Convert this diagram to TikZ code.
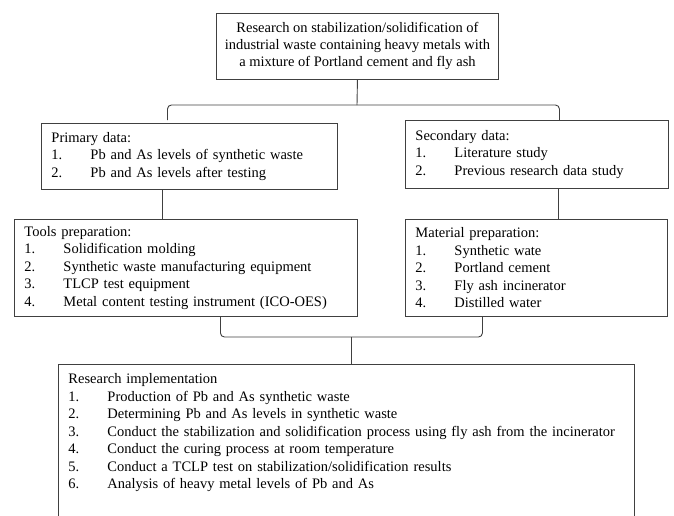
\documentclass[tikz,border=0pt]{standalone}
\usepackage{fontspec}
\setmainfont{Liberation Serif}
\begin{document}
\begin{tikzpicture}[x=1pt,y=-1pt,line width=0.9pt,
  blk/.style={draw=black!75,anchor=north west,align=left,inner xsep=10pt,
    font={\fontsize{14.5pt}{17.5pt}\selectfont}},
  link/.style={draw=black!75,rounded corners=4pt}]
% numbered item: number, tab, text
\newcommand{\itm}[2]{\mbox{\makebox[39pt][l]{#1}#2}}
\useasboundingbox (0,0) rectangle (674,515);
\clip (0,0) rectangle (674,515);
% ---------- title ----------
\node[blk,align=center,inner xsep=6pt,minimum width=282pt,minimum height=66pt,
  font={\fontsize{14.5pt}{17pt}\selectfont}] (title) at (216,13)
  {Research on stabilization/solidification of\\
   industrial waste containing heavy metals with\\
   a mixture of Portland cement and fly ash};
% ---------- data ----------
\node[blk,text width=276pt,minimum height=66pt] (prim) at (41,123)
  {Primary data:\\
   \itm{1.}{Pb and As levels of synthetic waste}\\
   \itm{2.}{Pb and As levels after testing}};
\node[blk,text width=243pt,minimum height=68pt] (sec) at (405,120)
  {Secondary data:\\
   \itm{1.}{Literature study}\\
   \itm{2.}{Previous research data study}};
% ---------- preparation ----------
\node[blk,text width=323pt,minimum height=97pt] (tools) at (14,219)
  {Tools preparation:\\
   \itm{1.}{Solidification molding}\\
   \itm{2.}{Synthetic waste manufacturing equipment}\\
   \itm{3.}{TLCP test equipment}\\
   \itm{4.}{Metal content testing instrument (ICO-OES)}};
\node[blk,text width=242pt,minimum height=97pt] (mat) at (405,219)
  {Material preparation:\\
   \itm{1.}{Synthetic wate}\\
   \itm{2.}{Portland cement}\\
   \itm{3.}{Fly ash incinerator}\\
   \itm{4.}{Distilled water}};
% ---------- implementation (cut at the bottom) ----------
\node[blk,text width=556pt,inner ysep=9pt] (impl) at (58,364)
  {Research implementation\\
   \itm{1.}{Production of Pb and As synthetic waste}\\
   \itm{2.}{Determining Pb and As levels in synthetic waste}\\
   \itm{3.}{Conduct the stabilization and solidification process using fly ash from the incinerator}\\
   \itm{4.}{Conduct the curing process at room temperature}\\
   \itm{5.}{Conduct a TCLP test on stabilization/solidification results}\\
   \itm{6.}{Analysis of heavy metal levels of Pb and As}\\
   \rule{0pt}{30pt}};
% ---------- connectors ----------
\coordinate (tsplit) at (357,105);
\draw[link] (title.south) -- (tsplit);
\draw[link] ([xshift=-22pt,yshift=3pt]prim.north) |- (tsplit) -| ([xshift=22.5pt]sec.north);
\coordinate (pleg) at ([xshift=-27pt]prim.south);
\coordinate (sleg) at ([xshift=21.5pt]sec.south);
\draw[link] (pleg) -- (pleg |- tools.north);
\draw[link] (sleg) -- (sleg |- mat.north);
\coordinate (bsplit) at (351,337);
\draw[link] ([xshift=34.5pt]tools.south) |- (bsplit) -| ([xshift=-54pt]mat.south);
\draw[link] (bsplit) -- (bsplit |- impl.north);
\end{tikzpicture}
\end{document}
